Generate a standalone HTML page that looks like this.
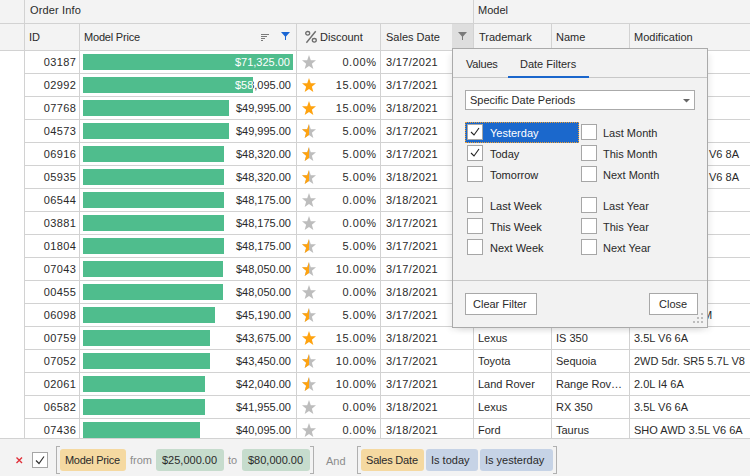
<!DOCTYPE html>
<html><head><meta charset="utf-8"><style>
*{margin:0;padding:0;box-sizing:border-box}
html,body{width:750px;height:476px;overflow:hidden;background:#fff}
body{position:relative;font-family:"Liberation Sans",sans-serif;font-size:11px;color:#2a2a2a}
.a{position:absolute}
.t{position:absolute;white-space:nowrap;line-height:22px;height:22px}
.hl{position:absolute;height:1px;background:#d2d2d2}
.vl{position:absolute;width:1px;background:#d2d2d2}
.bar{position:absolute;left:83px;height:16px;background:#4fbd8d}
.star{position:absolute;left:302px}
.r{text-align:right}
.cb{position:absolute;width:16px;height:16px;border:1px solid #a6a6a6;background:#fff}
.pill{position:absolute;top:449px;height:22px;line-height:22px;border-radius:3px;padding-left:6px;white-space:nowrap}
</style></head><body>
<svg width="0" height="0" style="position:absolute"><defs><clipPath id="lh"><rect x="0" y="0" width="7" height="14"/></clipPath></defs></svg>

<div class="a" style="left:0;top:0;width:750px;height:50px;background:#f3f3f3"></div>
<div class="hl" style="left:0;top:23px;width:750px"></div>
<div class="hl" style="left:0;top:50px;width:750px"></div>
<div class="a" style="left:452px;top:24px;width:21px;height:26px;background:#dedede"></div>
<div class="vl" style="left:24px;top:0;height:438px"></div>
<div class="vl" style="left:473px;top:0;height:438px"></div>
<div class="vl" style="left:79px;top:24px;height:414px"></div>
<div class="vl" style="left:296px;top:24px;height:414px"></div>
<div class="vl" style="left:380px;top:24px;height:414px"></div>
<div class="vl" style="left:551px;top:24px;height:414px"></div>
<div class="vl" style="left:629px;top:24px;height:414px"></div>
<div class="t" style="left:30px;top:-1px;letter-spacing:0.15px">Order Info</div>
<div class="t" style="left:478px;top:-1px">Model</div>
<div class="t" style="left:29px;top:26px">ID</div>
<div class="t" style="left:84px;top:26px;letter-spacing:-0.2px">Model Price</div>
<div class="t" style="left:320px;top:26px">Discount</div>
<div class="t" style="left:386px;top:26px">Sales Date</div>
<div class="t" style="left:479px;top:26px">Trademark</div>
<div class="t" style="left:556px;top:26px">Name</div>
<div class="t" style="left:634px;top:26px">Modification</div>
<div class="a" style="left:261px;top:34px;width:8px;height:1px;background:#7a7a7a"></div>
<div class="a" style="left:261px;top:36px;width:6px;height:1px;background:#7a7a7a"></div>
<div class="a" style="left:261px;top:38px;width:4px;height:1px;background:#7a7a7a"></div>
<div class="a" style="left:261px;top:40px;width:2px;height:1px;background:#7a7a7a"></div>
<svg class="a" style="left:281px;top:32px" width="9" height="8" viewBox="0 0 9 8"><path d="M0 0H9L5 4.5V8H4V4.5Z" fill="#1a66d4"/></svg>
<svg class="a" style="left:458px;top:32px" width="9" height="8" viewBox="0 0 9 8"><path d="M0 0H9L5 4.5V8H4V4.5Z" fill="#7a7a7a"/></svg>
<svg class="a" style="left:304px;top:29px" width="14" height="16" viewBox="0 0 14 16"><ellipse cx="3.7" cy="4.3" rx="2" ry="1.8" fill="none" stroke="#6e6e6e" stroke-width="1.3"/><ellipse cx="10.3" cy="11.3" rx="2" ry="1.8" fill="none" stroke="#6e6e6e" stroke-width="1.3"/><path d="M11.7 2.3L2.4 13.8" stroke="#6e6e6e" stroke-width="1.4"/></svg>
<div class="hl" style="left:24px;top:73px;width:726px"></div>
<div class="t r" style="left:25px;width:51.4px;top:51px;letter-spacing:0.4px">03187</div>
<div class="bar" style="top:54px;width:210px"></div>
<div class="a" style="left:293px;top:51px;width:3px;height:22px;overflow:hidden"><div class="t r" style="left:-213px;width:211px;top:0">$71,325.00</div></div>
<div class="a" style="left:83px;top:51px;width:210px;height:22px;overflow:hidden"><div class="t r" style="left:-3px;width:210px;top:0;color:#fff">$71,325.00</div></div>
<svg class="star" style="top:55px" width="14" height="14" viewBox="0 0 14 14"><path d="M7 0 L8.79 5.15 L14 5.35 L9.89 8.73 L11.33 14 L7 10.94 L2.67 14 L4.11 8.73 L0 5.35 L5.21 5.15 Z" fill="#bdbdbd"/></svg>
<div class="t r" style="left:297px;width:79.6px;top:51px;letter-spacing:0.6px">0.00%</div>
<div class="t" style="left:386px;top:51px;letter-spacing:0.35px">3/17/2021</div>
<div class="hl" style="left:24px;top:96px;width:726px"></div>
<div class="t r" style="left:25px;width:51.4px;top:74px;letter-spacing:0.4px">02992</div>
<div class="bar" style="top:77px;width:170px"></div>
<div class="a" style="left:253px;top:74px;width:43px;height:22px;overflow:hidden"><div class="t r" style="left:-173px;width:211px;top:0">$58,095.00</div></div>
<div class="a" style="left:83px;top:74px;width:170px;height:22px;overflow:hidden"><div class="t r" style="left:-3px;width:210px;top:0;color:#fff">$58,095.00</div></div>
<svg class="star" style="top:78px" width="14" height="14" viewBox="0 0 14 14"><path d="M7 0 L8.79 5.15 L14 5.35 L9.89 8.73 L11.33 14 L7 10.94 L2.67 14 L4.11 8.73 L0 5.35 L5.21 5.15 Z" fill="#ffa30f"/></svg>
<div class="t r" style="left:297px;width:79.6px;top:74px;letter-spacing:0.6px">15.00%</div>
<div class="t" style="left:386px;top:74px;letter-spacing:0.35px">3/17/2021</div>
<div class="hl" style="left:24px;top:119px;width:726px"></div>
<div class="t r" style="left:25px;width:51.4px;top:97px;letter-spacing:0.4px">07768</div>
<div class="bar" style="top:100px;width:146px"></div>
<div class="a" style="left:229px;top:97px;width:67px;height:22px;overflow:hidden"><div class="t r" style="left:-149px;width:211px;top:0">$49,995.00</div></div>
<div class="a" style="left:83px;top:97px;width:146px;height:22px;overflow:hidden"><div class="t r" style="left:-3px;width:210px;top:0;color:#fff">$49,995.00</div></div>
<svg class="star" style="top:101px" width="14" height="14" viewBox="0 0 14 14"><path d="M7 0 L8.79 5.15 L14 5.35 L9.89 8.73 L11.33 14 L7 10.94 L2.67 14 L4.11 8.73 L0 5.35 L5.21 5.15 Z" fill="#ffa30f"/></svg>
<div class="t r" style="left:297px;width:79.6px;top:97px;letter-spacing:0.6px">15.00%</div>
<div class="t" style="left:386px;top:97px;letter-spacing:0.35px">3/18/2021</div>
<div class="hl" style="left:24px;top:142px;width:726px"></div>
<div class="t r" style="left:25px;width:51.4px;top:120px;letter-spacing:0.4px">04573</div>
<div class="bar" style="top:123px;width:146px"></div>
<div class="a" style="left:229px;top:120px;width:67px;height:22px;overflow:hidden"><div class="t r" style="left:-149px;width:211px;top:0">$49,995.00</div></div>
<div class="a" style="left:83px;top:120px;width:146px;height:22px;overflow:hidden"><div class="t r" style="left:-3px;width:210px;top:0;color:#fff">$49,995.00</div></div>
<svg class="star" style="top:124px" width="14" height="14" viewBox="0 0 14 14"><path d="M7 0 L8.79 5.15 L14 5.35 L9.89 8.73 L11.33 14 L7 10.94 L2.67 14 L4.11 8.73 L0 5.35 L5.21 5.15 Z" fill="#bdbdbd"/><path d="M7 0 L8.79 5.15 L14 5.35 L9.89 8.73 L11.33 14 L7 10.94 L2.67 14 L4.11 8.73 L0 5.35 L5.21 5.15 Z" fill="#ffa30f" clip-path="url(#lh)"/></svg>
<div class="t r" style="left:297px;width:79.6px;top:120px;letter-spacing:0.6px">5.00%</div>
<div class="t" style="left:386px;top:120px;letter-spacing:0.35px">3/17/2021</div>
<div class="hl" style="left:24px;top:165px;width:726px"></div>
<div class="t r" style="left:25px;width:51.4px;top:143px;letter-spacing:0.4px">06916</div>
<div class="bar" style="top:146px;width:141px"></div>
<div class="a" style="left:224px;top:143px;width:72px;height:22px;overflow:hidden"><div class="t r" style="left:-144px;width:211px;top:0">$48,320.00</div></div>
<div class="a" style="left:83px;top:143px;width:141px;height:22px;overflow:hidden"><div class="t r" style="left:-3px;width:210px;top:0;color:#fff">$48,320.00</div></div>
<svg class="star" style="top:147px" width="14" height="14" viewBox="0 0 14 14"><path d="M7 0 L8.79 5.15 L14 5.35 L9.89 8.73 L11.33 14 L7 10.94 L2.67 14 L4.11 8.73 L0 5.35 L5.21 5.15 Z" fill="#bdbdbd"/><path d="M7 0 L8.79 5.15 L14 5.35 L9.89 8.73 L11.33 14 L7 10.94 L2.67 14 L4.11 8.73 L0 5.35 L5.21 5.15 Z" fill="#ffa30f" clip-path="url(#lh)"/></svg>
<div class="t r" style="left:297px;width:79.6px;top:143px;letter-spacing:0.6px">5.00%</div>
<div class="t" style="left:386px;top:143px;letter-spacing:0.35px">3/17/2021</div>
<div class="hl" style="left:24px;top:188px;width:726px"></div>
<div class="t r" style="left:25px;width:51.4px;top:166px;letter-spacing:0.4px">05935</div>
<div class="bar" style="top:169px;width:141px"></div>
<div class="a" style="left:224px;top:166px;width:72px;height:22px;overflow:hidden"><div class="t r" style="left:-144px;width:211px;top:0">$48,320.00</div></div>
<div class="a" style="left:83px;top:166px;width:141px;height:22px;overflow:hidden"><div class="t r" style="left:-3px;width:210px;top:0;color:#fff">$48,320.00</div></div>
<svg class="star" style="top:170px" width="14" height="14" viewBox="0 0 14 14"><path d="M7 0 L8.79 5.15 L14 5.35 L9.89 8.73 L11.33 14 L7 10.94 L2.67 14 L4.11 8.73 L0 5.35 L5.21 5.15 Z" fill="#bdbdbd"/><path d="M7 0 L8.79 5.15 L14 5.35 L9.89 8.73 L11.33 14 L7 10.94 L2.67 14 L4.11 8.73 L0 5.35 L5.21 5.15 Z" fill="#ffa30f" clip-path="url(#lh)"/></svg>
<div class="t r" style="left:297px;width:79.6px;top:166px;letter-spacing:0.6px">5.00%</div>
<div class="t" style="left:386px;top:166px;letter-spacing:0.35px">3/18/2021</div>
<div class="hl" style="left:24px;top:211px;width:726px"></div>
<div class="t r" style="left:25px;width:51.4px;top:189px;letter-spacing:0.4px">06544</div>
<div class="bar" style="top:192px;width:141px"></div>
<div class="a" style="left:224px;top:189px;width:72px;height:22px;overflow:hidden"><div class="t r" style="left:-144px;width:211px;top:0">$48,175.00</div></div>
<div class="a" style="left:83px;top:189px;width:141px;height:22px;overflow:hidden"><div class="t r" style="left:-3px;width:210px;top:0;color:#fff">$48,175.00</div></div>
<svg class="star" style="top:193px" width="14" height="14" viewBox="0 0 14 14"><path d="M7 0 L8.79 5.15 L14 5.35 L9.89 8.73 L11.33 14 L7 10.94 L2.67 14 L4.11 8.73 L0 5.35 L5.21 5.15 Z" fill="#bdbdbd"/></svg>
<div class="t r" style="left:297px;width:79.6px;top:189px;letter-spacing:0.6px">0.00%</div>
<div class="t" style="left:386px;top:189px;letter-spacing:0.35px">3/18/2021</div>
<div class="hl" style="left:24px;top:234px;width:726px"></div>
<div class="t r" style="left:25px;width:51.4px;top:212px;letter-spacing:0.4px">03881</div>
<div class="bar" style="top:215px;width:141px"></div>
<div class="a" style="left:224px;top:212px;width:72px;height:22px;overflow:hidden"><div class="t r" style="left:-144px;width:211px;top:0">$48,175.00</div></div>
<div class="a" style="left:83px;top:212px;width:141px;height:22px;overflow:hidden"><div class="t r" style="left:-3px;width:210px;top:0;color:#fff">$48,175.00</div></div>
<svg class="star" style="top:216px" width="14" height="14" viewBox="0 0 14 14"><path d="M7 0 L8.79 5.15 L14 5.35 L9.89 8.73 L11.33 14 L7 10.94 L2.67 14 L4.11 8.73 L0 5.35 L5.21 5.15 Z" fill="#bdbdbd"/></svg>
<div class="t r" style="left:297px;width:79.6px;top:212px;letter-spacing:0.6px">0.00%</div>
<div class="t" style="left:386px;top:212px;letter-spacing:0.35px">3/17/2021</div>
<div class="hl" style="left:24px;top:257px;width:726px"></div>
<div class="t r" style="left:25px;width:51.4px;top:235px;letter-spacing:0.4px">01804</div>
<div class="bar" style="top:238px;width:141px"></div>
<div class="a" style="left:224px;top:235px;width:72px;height:22px;overflow:hidden"><div class="t r" style="left:-144px;width:211px;top:0">$48,175.00</div></div>
<div class="a" style="left:83px;top:235px;width:141px;height:22px;overflow:hidden"><div class="t r" style="left:-3px;width:210px;top:0;color:#fff">$48,175.00</div></div>
<svg class="star" style="top:239px" width="14" height="14" viewBox="0 0 14 14"><path d="M7 0 L8.79 5.15 L14 5.35 L9.89 8.73 L11.33 14 L7 10.94 L2.67 14 L4.11 8.73 L0 5.35 L5.21 5.15 Z" fill="#bdbdbd"/><path d="M7 0 L8.79 5.15 L14 5.35 L9.89 8.73 L11.33 14 L7 10.94 L2.67 14 L4.11 8.73 L0 5.35 L5.21 5.15 Z" fill="#ffa30f" clip-path="url(#lh)"/></svg>
<div class="t r" style="left:297px;width:79.6px;top:235px;letter-spacing:0.6px">5.00%</div>
<div class="t" style="left:386px;top:235px;letter-spacing:0.35px">3/17/2021</div>
<div class="hl" style="left:24px;top:280px;width:726px"></div>
<div class="t r" style="left:25px;width:51.4px;top:258px;letter-spacing:0.4px">07043</div>
<div class="bar" style="top:261px;width:140px"></div>
<div class="a" style="left:223px;top:258px;width:73px;height:22px;overflow:hidden"><div class="t r" style="left:-143px;width:211px;top:0">$48,050.00</div></div>
<div class="a" style="left:83px;top:258px;width:140px;height:22px;overflow:hidden"><div class="t r" style="left:-3px;width:210px;top:0;color:#fff">$48,050.00</div></div>
<svg class="star" style="top:262px" width="14" height="14" viewBox="0 0 14 14"><path d="M7 0 L8.79 5.15 L14 5.35 L9.89 8.73 L11.33 14 L7 10.94 L2.67 14 L4.11 8.73 L0 5.35 L5.21 5.15 Z" fill="#bdbdbd"/><path d="M7 0 L8.79 5.15 L14 5.35 L9.89 8.73 L11.33 14 L7 10.94 L2.67 14 L4.11 8.73 L0 5.35 L5.21 5.15 Z" fill="#ffa30f" clip-path="url(#lh)"/></svg>
<div class="t r" style="left:297px;width:79.6px;top:258px;letter-spacing:0.6px">10.00%</div>
<div class="t" style="left:386px;top:258px;letter-spacing:0.35px">3/17/2021</div>
<div class="hl" style="left:24px;top:303px;width:726px"></div>
<div class="t r" style="left:25px;width:51.4px;top:281px;letter-spacing:0.4px">00455</div>
<div class="bar" style="top:284px;width:140px"></div>
<div class="a" style="left:223px;top:281px;width:73px;height:22px;overflow:hidden"><div class="t r" style="left:-143px;width:211px;top:0">$48,050.00</div></div>
<div class="a" style="left:83px;top:281px;width:140px;height:22px;overflow:hidden"><div class="t r" style="left:-3px;width:210px;top:0;color:#fff">$48,050.00</div></div>
<svg class="star" style="top:285px" width="14" height="14" viewBox="0 0 14 14"><path d="M7 0 L8.79 5.15 L14 5.35 L9.89 8.73 L11.33 14 L7 10.94 L2.67 14 L4.11 8.73 L0 5.35 L5.21 5.15 Z" fill="#bdbdbd"/></svg>
<div class="t r" style="left:297px;width:79.6px;top:281px;letter-spacing:0.6px">0.00%</div>
<div class="t" style="left:386px;top:281px;letter-spacing:0.35px">3/18/2021</div>
<div class="hl" style="left:24px;top:326px;width:726px"></div>
<div class="t r" style="left:25px;width:51.4px;top:304px;letter-spacing:0.4px">06098</div>
<div class="bar" style="top:307px;width:132px"></div>
<div class="a" style="left:215px;top:304px;width:81px;height:22px;overflow:hidden"><div class="t r" style="left:-135px;width:211px;top:0">$45,190.00</div></div>
<div class="a" style="left:83px;top:304px;width:132px;height:22px;overflow:hidden"><div class="t r" style="left:-3px;width:210px;top:0;color:#fff">$45,190.00</div></div>
<svg class="star" style="top:308px" width="14" height="14" viewBox="0 0 14 14"><path d="M7 0 L8.79 5.15 L14 5.35 L9.89 8.73 L11.33 14 L7 10.94 L2.67 14 L4.11 8.73 L0 5.35 L5.21 5.15 Z" fill="#bdbdbd"/><path d="M7 0 L8.79 5.15 L14 5.35 L9.89 8.73 L11.33 14 L7 10.94 L2.67 14 L4.11 8.73 L0 5.35 L5.21 5.15 Z" fill="#ffa30f" clip-path="url(#lh)"/></svg>
<div class="t r" style="left:297px;width:79.6px;top:304px;letter-spacing:0.6px">5.00%</div>
<div class="t" style="left:386px;top:304px;letter-spacing:0.35px">3/17/2021</div>
<div class="hl" style="left:24px;top:349px;width:726px"></div>
<div class="t r" style="left:25px;width:51.4px;top:327px;letter-spacing:0.4px">00759</div>
<div class="bar" style="top:330px;width:127px"></div>
<div class="a" style="left:210px;top:327px;width:86px;height:22px;overflow:hidden"><div class="t r" style="left:-130px;width:211px;top:0">$43,675.00</div></div>
<div class="a" style="left:83px;top:327px;width:127px;height:22px;overflow:hidden"><div class="t r" style="left:-3px;width:210px;top:0;color:#fff">$43,675.00</div></div>
<svg class="star" style="top:331px" width="14" height="14" viewBox="0 0 14 14"><path d="M7 0 L8.79 5.15 L14 5.35 L9.89 8.73 L11.33 14 L7 10.94 L2.67 14 L4.11 8.73 L0 5.35 L5.21 5.15 Z" fill="#ffa30f"/></svg>
<div class="t r" style="left:297px;width:79.6px;top:327px;letter-spacing:0.6px">15.00%</div>
<div class="t" style="left:386px;top:327px;letter-spacing:0.35px">3/18/2021</div>
<div class="t" style="left:478px;top:327px">Lexus</div>
<div class="t" style="left:556px;top:327px">IS 350</div>
<div class="t" style="left:634px;top:327px">3.5L V6 6A</div>
<div class="hl" style="left:24px;top:372px;width:726px"></div>
<div class="t r" style="left:25px;width:51.4px;top:350px;letter-spacing:0.4px">07052</div>
<div class="bar" style="top:353px;width:127px"></div>
<div class="a" style="left:210px;top:350px;width:86px;height:22px;overflow:hidden"><div class="t r" style="left:-130px;width:211px;top:0">$43,450.00</div></div>
<div class="a" style="left:83px;top:350px;width:127px;height:22px;overflow:hidden"><div class="t r" style="left:-3px;width:210px;top:0;color:#fff">$43,450.00</div></div>
<svg class="star" style="top:354px" width="14" height="14" viewBox="0 0 14 14"><path d="M7 0 L8.79 5.15 L14 5.35 L9.89 8.73 L11.33 14 L7 10.94 L2.67 14 L4.11 8.73 L0 5.35 L5.21 5.15 Z" fill="#bdbdbd"/><path d="M7 0 L8.79 5.15 L14 5.35 L9.89 8.73 L11.33 14 L7 10.94 L2.67 14 L4.11 8.73 L0 5.35 L5.21 5.15 Z" fill="#ffa30f" clip-path="url(#lh)"/></svg>
<div class="t r" style="left:297px;width:79.6px;top:350px;letter-spacing:0.6px">10.00%</div>
<div class="t" style="left:386px;top:350px;letter-spacing:0.35px">3/17/2021</div>
<div class="t" style="left:478px;top:350px">Toyota</div>
<div class="t" style="left:556px;top:350px">Sequoia</div>
<div class="t" style="left:634px;top:350px">2WD 5dr. SR5 5.7L V8</div>
<div class="hl" style="left:24px;top:395px;width:726px"></div>
<div class="t r" style="left:25px;width:51.4px;top:373px;letter-spacing:0.4px">02061</div>
<div class="bar" style="top:376px;width:122px"></div>
<div class="a" style="left:205px;top:373px;width:91px;height:22px;overflow:hidden"><div class="t r" style="left:-125px;width:211px;top:0">$42,040.00</div></div>
<div class="a" style="left:83px;top:373px;width:122px;height:22px;overflow:hidden"><div class="t r" style="left:-3px;width:210px;top:0;color:#fff">$42,040.00</div></div>
<svg class="star" style="top:377px" width="14" height="14" viewBox="0 0 14 14"><path d="M7 0 L8.79 5.15 L14 5.35 L9.89 8.73 L11.33 14 L7 10.94 L2.67 14 L4.11 8.73 L0 5.35 L5.21 5.15 Z" fill="#bdbdbd"/><path d="M7 0 L8.79 5.15 L14 5.35 L9.89 8.73 L11.33 14 L7 10.94 L2.67 14 L4.11 8.73 L0 5.35 L5.21 5.15 Z" fill="#ffa30f" clip-path="url(#lh)"/></svg>
<div class="t r" style="left:297px;width:79.6px;top:373px;letter-spacing:0.6px">10.00%</div>
<div class="t" style="left:386px;top:373px;letter-spacing:0.35px">3/17/2021</div>
<div class="t" style="left:478px;top:373px">Land Rover</div>
<div class="t" style="left:556px;top:373px">Range Rov…</div>
<div class="t" style="left:634px;top:373px">2.0L I4 6A</div>
<div class="hl" style="left:24px;top:418px;width:726px"></div>
<div class="t r" style="left:25px;width:51.4px;top:396px;letter-spacing:0.4px">06582</div>
<div class="bar" style="top:399px;width:122px"></div>
<div class="a" style="left:205px;top:396px;width:91px;height:22px;overflow:hidden"><div class="t r" style="left:-125px;width:211px;top:0">$41,955.00</div></div>
<div class="a" style="left:83px;top:396px;width:122px;height:22px;overflow:hidden"><div class="t r" style="left:-3px;width:210px;top:0;color:#fff">$41,955.00</div></div>
<svg class="star" style="top:400px" width="14" height="14" viewBox="0 0 14 14"><path d="M7 0 L8.79 5.15 L14 5.35 L9.89 8.73 L11.33 14 L7 10.94 L2.67 14 L4.11 8.73 L0 5.35 L5.21 5.15 Z" fill="#bdbdbd"/></svg>
<div class="t r" style="left:297px;width:79.6px;top:396px;letter-spacing:0.6px">0.00%</div>
<div class="t" style="left:386px;top:396px;letter-spacing:0.35px">3/18/2021</div>
<div class="t" style="left:478px;top:396px">Lexus</div>
<div class="t" style="left:556px;top:396px">RX 350</div>
<div class="t" style="left:634px;top:396px">3.5L V6 6A</div>
<div class="t r" style="left:25px;width:51.4px;top:419px;letter-spacing:0.4px">07436</div>
<div class="bar" style="top:422px;width:117px"></div>
<div class="a" style="left:200px;top:419px;width:96px;height:22px;overflow:hidden"><div class="t r" style="left:-120px;width:211px;top:0">$40,095.00</div></div>
<div class="a" style="left:83px;top:419px;width:117px;height:22px;overflow:hidden"><div class="t r" style="left:-3px;width:210px;top:0;color:#fff">$40,095.00</div></div>
<svg class="star" style="top:423px" width="14" height="14" viewBox="0 0 14 14"><path d="M7 0 L8.79 5.15 L14 5.35 L9.89 8.73 L11.33 14 L7 10.94 L2.67 14 L4.11 8.73 L0 5.35 L5.21 5.15 Z" fill="#bdbdbd"/></svg>
<div class="t r" style="left:297px;width:79.6px;top:419px;letter-spacing:0.6px">0.00%</div>
<div class="t" style="left:386px;top:419px;letter-spacing:0.35px">3/18/2021</div>
<div class="t" style="left:478px;top:419px">Ford</div>
<div class="t" style="left:556px;top:419px">Taurus</div>
<div class="t" style="left:634px;top:419px">SHO AWD 3.5L V6 6A</div>
<div class="t" style="left:709px;top:143px">V6 8A</div>
<div class="t" style="left:709px;top:166px">V6 8A</div>
<div class="a" style="left:708px;top:304px;width:4px;height:22px;overflow:hidden"><div class="t" style="left:-5px;top:0">M</div></div>
<div class="a" style="left:0;top:438px;width:750px;height:38px;background:#f3f3f3;border-top:1px solid #d2d2d2"></div>
<svg class="a" style="left:16px;top:457px" width="7" height="7" viewBox="0 0 7 7"><path d="M0.5 0.5L6 6M6 0.5L0.5 6" stroke="#e0303a" stroke-width="1.4"/></svg>
<div class="cb" style="left:32px;top:452px"></div>
<svg class="a" style="left:32px;top:452px" width="16" height="16" viewBox="0 0 16 16"><path d="M4 8.5L7 11.5L12 4.5" stroke="#333" stroke-width="1.2" fill="none"/></svg>
<div class="a" style="left:56px;top:446px;width:4px;height:28px;border:1px solid #b0b0b0;border-right:none"></div>
<div class="pill" style="left:60px;width:66px;background:#f5d9a1;padding-left:5px;letter-spacing:-0.3px">Model Price</div>
<div class="t" style="left:130px;top:449px;color:#8c8c8c">from</div>
<div class="pill" style="left:156px;width:68px;background:#c6dccd">$25,000.00</div>
<div class="t" style="left:228px;top:449px;color:#8c8c8c">to</div>
<div class="pill" style="left:242px;width:68px;background:#c6dccd">$80,000.00</div>
<div class="a" style="left:310px;top:446px;width:4px;height:28px;border:1px solid #b0b0b0;border-left:none"></div>
<div class="t" style="left:326px;top:450px;color:#8c8c8c">And</div>
<div class="a" style="left:357px;top:446px;width:4px;height:28px;border:1px solid #b0b0b0;border-right:none"></div>
<div class="pill" style="left:361px;width:63px;background:#f5d9a1;padding-left:5px;letter-spacing:-0.2px">Sales Date</div>
<div class="pill" style="left:426px;width:52px;background:#c6d3e6;padding-left:5px">Is today</div>
<div class="pill" style="left:480px;width:73px;background:#c6d3e6;padding-left:5px">Is yesterday</div>
<div class="a" style="left:553px;top:446px;width:4px;height:28px;border:1px solid #b0b0b0;border-left:none"></div>
<div class="a" style="left:452px;top:48px;width:256px;height:280px;background:#f2f2f2;border:1px solid #aaaaaa;box-shadow:4px 4px 6px -2px rgba(0,0,0,0.08),-4px 4px 6px -2px rgba(0,0,0,0.08)"></div>
<div class="t" style="left:466px;top:53px;letter-spacing:-0.2px">Values</div>
<div class="t" style="left:520px;top:53px">Date Filters</div>
<div class="a" style="left:453px;top:77px;width:254px;height:1px;background:#c8c8c8"></div>
<div class="a" style="left:508px;top:76px;width:81px;height:2px;background:#1a66cc"></div>
<div class="a" style="left:465px;top:90px;width:230px;height:20px;background:#fff;border:1px solid #aaaaaa"></div>
<div class="t" style="left:470px;top:89px">Specific Date Periods</div>
<svg class="a" style="left:683px;top:99px" width="7" height="4" viewBox="0 0 7 4"><path d="M0 0H7L3.5 3.5Z" fill="#666"/></svg>
<div class="a" style="left:465px;top:122px;width:114px;height:21px;background:#1b68cc;outline:1px dotted #f0a030;outline-offset:-1px"></div>
<div class="cb" style="left:467px;top:124px"></div>
<svg class="a" style="left:467px;top:124px" width="16" height="16" viewBox="0 0 16 16"><path d="M4 8L7 11L12 4" stroke="#222" stroke-width="1.1" fill="none"/></svg>
<div class="t" style="left:490px;top:122px;color:#fff">Yesterday</div>
<div class="cb" style="left:467px;top:145px"></div>
<svg class="a" style="left:467px;top:145px" width="16" height="16" viewBox="0 0 16 16"><path d="M4 8L7 11L12 4" stroke="#222" stroke-width="1.1" fill="none"/></svg>
<div class="t" style="left:490px;top:143px;color:#252525">Today</div>
<div class="cb" style="left:467px;top:166px"></div>
<div class="t" style="left:490px;top:164px;color:#252525">Tomorrow</div>
<div class="cb" style="left:467px;top:197px"></div>
<div class="t" style="left:490px;top:195px;color:#252525">Last Week</div>
<div class="cb" style="left:467px;top:218px"></div>
<div class="t" style="left:490px;top:216px;color:#252525">This Week</div>
<div class="cb" style="left:467px;top:239px"></div>
<div class="t" style="left:490px;top:237px;color:#252525">Next Week</div>
<div class="cb" style="left:581px;top:124px"></div>
<div class="t" style="left:603px;top:122px">Last Month</div>
<div class="cb" style="left:581px;top:145px"></div>
<div class="t" style="left:603px;top:143px">This Month</div>
<div class="cb" style="left:581px;top:166px"></div>
<div class="t" style="left:603px;top:164px">Next Month</div>
<div class="cb" style="left:581px;top:197px"></div>
<div class="t" style="left:603px;top:195px">Last Year</div>
<div class="cb" style="left:581px;top:218px"></div>
<div class="t" style="left:603px;top:216px">This Year</div>
<div class="cb" style="left:581px;top:239px"></div>
<div class="t" style="left:603px;top:237px">Next Year</div>
<div class="a" style="left:453px;top:280px;width:254px;height:1px;background:#c8c8c8"></div>
<div class="a" style="left:465px;top:293px;width:72px;height:22px;background:#fff;border:1px solid #a8a8a8"></div>
<div class="t" style="left:473px;top:293px">Clear Filter</div>
<div class="a" style="left:649px;top:293px;width:49px;height:22px;background:#fff;border:1px solid #a8a8a8"></div>
<div class="t" style="left:659px;top:293px">Close</div>
<div class="a" style="left:701px;top:313px;width:2px;height:2px;background:#bdbdbd"></div>
<div class="a" style="left:697px;top:317px;width:2px;height:2px;background:#bdbdbd"></div>
<div class="a" style="left:701px;top:317px;width:2px;height:2px;background:#bdbdbd"></div>
<div class="a" style="left:693px;top:321px;width:2px;height:2px;background:#bdbdbd"></div>
<div class="a" style="left:697px;top:321px;width:2px;height:2px;background:#bdbdbd"></div>
<div class="a" style="left:701px;top:321px;width:2px;height:2px;background:#bdbdbd"></div>
</body></html>
